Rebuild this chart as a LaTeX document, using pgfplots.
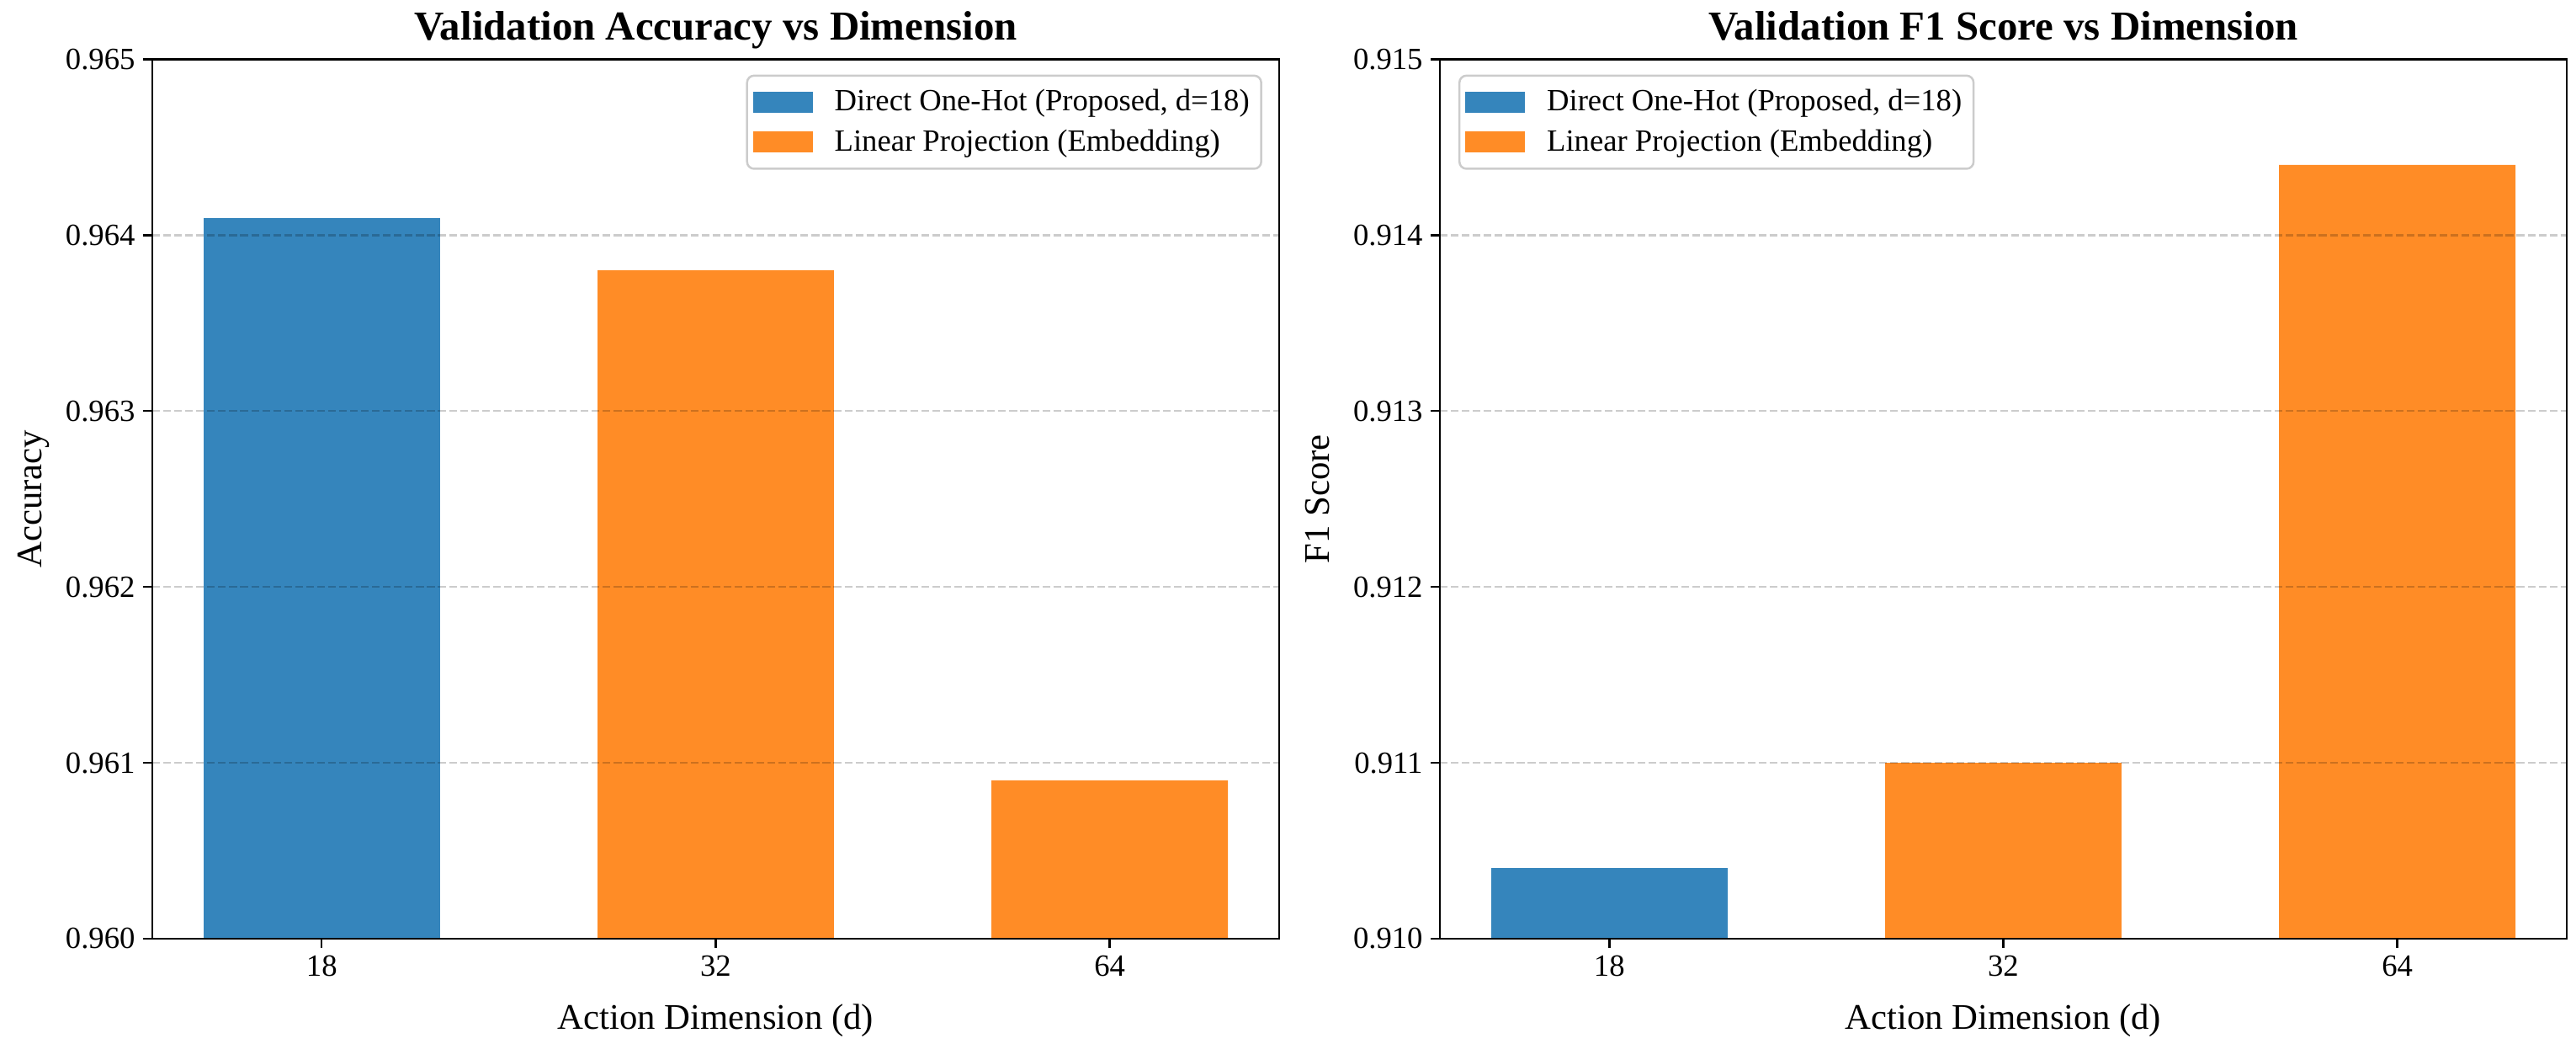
\documentclass[border=0pt]{standalone}
\usepackage{fontspec}
\setmainfont{Liberation Serif}
\usepackage{pgfplots}
\pgfplotsset{compat=1.18}

\definecolor{barblue}{RGB}{53,133,188}
\definecolor{barorange}{RGB}{255,140,38}

\pgfplotsset{
  panel/.style={
    width=482pt, height=376pt, scale only axis,
    xmin=-0.43, xmax=2.43,
    xtick={0,1,2}, xticklabels={18,32,64},
    tick align=outside, tick pos=left,
    major tick length=3.85pt,
    every tick/.style={black, line width=0.85pt},
    axis line style={line width=0.85pt},
    ymajorgrids,
    grid style={black, opacity=0.2, line width=0.85pt, dash pattern=on 3.3pt off 1.4pt},
    axis on top,
    ybar, bar width=0.6, bar shift=0pt,
    legend image code/.code={\fill[##1, sharp corners] (0pt,-4.5pt) rectangle (25.6pt,4.5pt);},
    tick label style={font=\fontsize{13.2}{15}\selectfont},
    /pgf/number format/assume math mode=true,
    yticklabel style={/pgf/number format/.cd, fixed, fixed zerofill, precision=3},
    title style={at={(rel axis cs:0.5,1)}, anchor=base, yshift=2.3pt,
      font=\bfseries\fontsize{17.6}{20}\selectfont},
    xlabel style={at={(rel axis cs:0.5,0)}, anchor=base, yshift=-38.8pt,
      font=\fontsize{15.4}{18}\selectfont},
    ylabel style={at={([xshift=-47.5pt]rel axis cs:0,0.5)}, anchor=base,
      font=\fontsize{15.4}{18}\selectfont},
    legend cell align=left,
    legend style={draw=black!20, line width=0.9pt, rounded corners=3pt,
      fill=white,
      font=\fontsize{13.2}{15.8}\selectfont,
      inner xsep=2.5pt, inner ysep=3.5pt, column sep=6.8pt, row sep=1.5pt,
      nodes={inner sep=2.5pt}},
  }
}

\begin{document}
\begin{tikzpicture}
\path[use as bounding box] (-65.16pt,-47.16pt) rectangle (1036.8pt,401.4pt);

% left: accuracy
\begin{axis}[panel,
  ymin=0.960, ymax=0.965,
  ytick={0.960,0.961,0.962,0.963,0.964,0.965},
  title={Validation Accuracy vs Dimension},
  xlabel={Action Dimension (d)}, ylabel={Accuracy},
  legend style={at={(rel axis cs:1,1)}, anchor=north east, xshift=-7.2pt, yshift=-6.5pt}]
\addplot[fill=barblue, draw=none] coordinates {(0,0.9641)};
\addlegendentry{Direct One-Hot (Proposed, d=18)}
\addplot[fill=barorange, draw=none] coordinates {(1,0.9638) (2,0.9609)};
\addlegendentry{Linear Projection (Embedding)}
\end{axis}

% right: F1
\begin{axis}[panel, at={(550.8pt,0pt)},
  ymin=0.910, ymax=0.915,
  ytick={0.910,0.911,0.912,0.913,0.914,0.915},
  title={Validation F1 Score vs Dimension},
  xlabel={Action Dimension (d)}, ylabel={F1 Score},
  legend style={at={(rel axis cs:0,1)}, anchor=north west, xshift=7.9pt, yshift=-6.5pt}]
\addplot[fill=barblue, draw=none] coordinates {(0,0.9104)};
\addlegendentry{Direct One-Hot (Proposed, d=18)}
\addplot[fill=barorange, draw=none] coordinates {(1,0.9110) (2,0.9144)};
\addlegendentry{Linear Projection (Embedding)}
\end{axis}
\end{tikzpicture}
\end{document}
